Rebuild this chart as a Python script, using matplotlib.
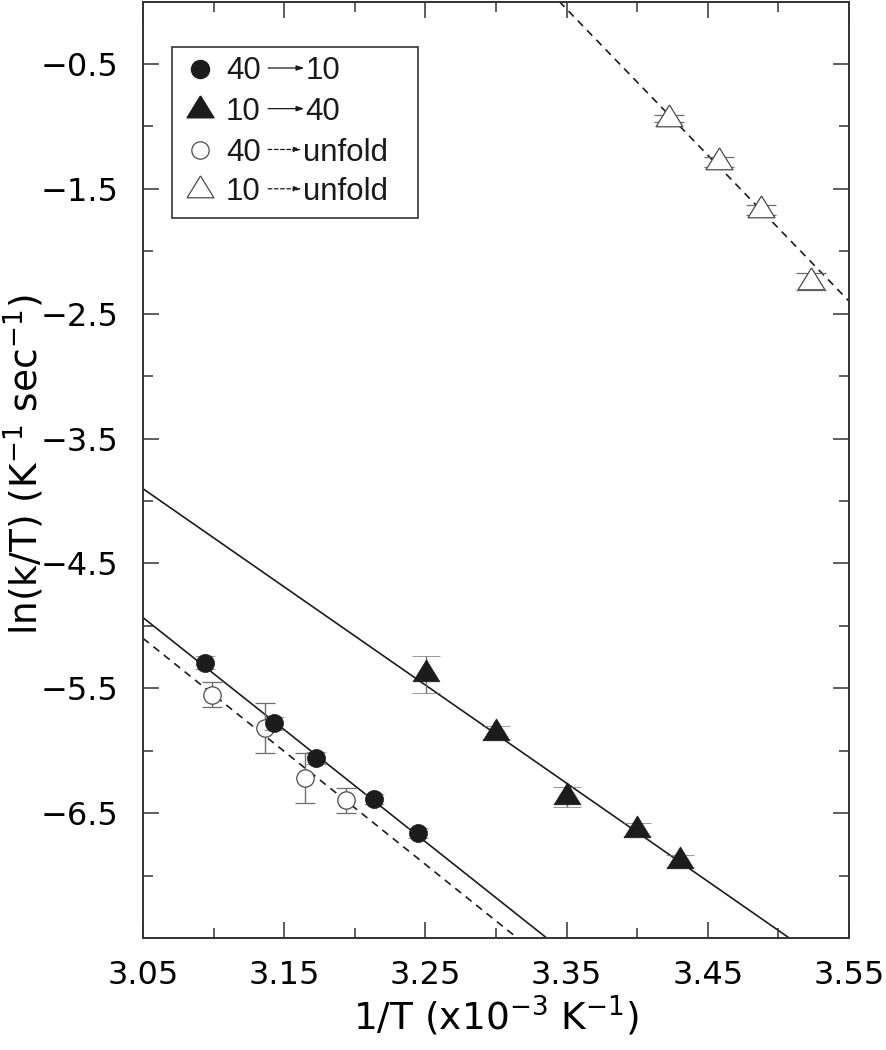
import numpy as np
import matplotlib
matplotlib.use('Agg')
import matplotlib.pyplot as plt
from matplotlib.patches import Rectangle

# ---------------- data ----------------
# 40 -> 10 (filled circles)
fc_x = [3.094, 3.143, 3.1725, 3.2136, 3.2448]
fc_y = [-5.294, -5.782, -6.058, -6.390, -6.660]
fc_err = [0.05, 0.05, 0.05, 0.04, 0.04]
# 10 -> 40 (filled triangles)
ft_x = [3.2504, 3.300, 3.350, 3.400, 3.430]
ft_y = [-5.388, -5.856, -6.370, -6.633, -6.882]
ft_err = [0.15, 0.05, 0.08, 0.05, 0.05]
# 40 ---> unfold (open circles)
oc_x = [3.099, 3.1364, 3.1647, 3.1938]
oc_y = [-5.550, -5.818, -6.222, -6.396]
oc_err = [0.10, 0.20, 0.20, 0.10]
# 10 ---> unfold (open triangles)
ot_x = [3.4227, 3.458, 3.4875, 3.523]
ot_y = [-0.938, -1.284, -1.666, -2.244]
ot_err = [0.03, 0.04, 0.04, 0.07]

# fitted lines (end points)
fc_fit_x = [3.05, 3.3359]
fc_fit_y = [-4.934, -7.50]
oc_fit_x = [3.05, 3.3151]
oc_fit_y = [-5.10, -7.50]
ft_fit_x = [3.05, 3.5077]
ft_fit_y = [-3.902, -7.50]
ot_fit_x = [3.3448, 3.55]
ot_fit_y = [0.0, -2.40]

x_major = [3.05, 3.15, 3.25, 3.35, 3.45, 3.55]
x_labels = ['3.05', '3.15', '3.25', '3.35', '3.45', '3.55']
x_minor = [3.10, 3.20, 3.30, 3.40, 3.50]
y_major = [-0.5, -1.5, -2.5, -3.5, -4.5, -5.5, -6.5]
y_labels = ['\u22120.5', '\u22121.5', '\u22122.5', '\u22123.5', '\u22124.5', '\u22125.5', '\u22126.5']
y_minor = [-1.0, -2.0, -3.0, -4.0, -5.0, -6.0, -7.0]

legend_labels = [('40', '10', 'solid'), ('10', '40', 'solid'),
                 ('40', 'unfold', 'dashed'), ('10', 'unfold', 'dashed')]

# ---------------- style ----------------
plt.rcParams['font.family'] = ['Liberation Sans', 'DejaVu Sans']
plt.rcParams['mathtext.fontset'] = 'custom'
plt.rcParams['mathtext.rm'] = 'Liberation Sans Narrow'
plt.rcParams['mathtext.default'] = 'regular'

DARK = '#1c1c1c'
GREY = '#6e6e6e'
OPEN_EDGE = '#4a4a4a'

# triangle marker with centroid at origin, wider than tall
tri = [(0, 14.67), (-13.5, -7.33), (13.5, -7.33), (0, 14.67)]

fig = plt.figure(figsize=(8.86, 10.5), dpi=100)
ax = fig.add_axes([143 / 886, 1 - 938 / 1050, 706 / 886, 936.5 / 1050])

# fit lines
ax.plot(fc_fit_x, fc_fit_y, color=DARK, lw=1.2, zorder=1)
ax.plot(oc_fit_x, oc_fit_y, color=DARK, lw=1.2, ls=(0, (4.5, 3.5)), zorder=1)
ax.plot(ft_fit_x, ft_fit_y, color=DARK, lw=1.2, zorder=1)
ax.plot(ot_fit_x, ot_fit_y, color=DARK, lw=1.2, ls=(0, (4.5, 3.5)), zorder=1)

eb_kw = dict(ecolor=GREY, elinewidth=1.0, capthick=1.0, ls='none')
# open circles first (filled circles drawn on top)
ax.errorbar(oc_x, oc_y, yerr=oc_err, marker='o', ms=12.5, mfc='white',
            mec=OPEN_EDGE, mew=0.9, capsize=7.5, zorder=2, **eb_kw)
ax.errorbar(fc_x, fc_y, yerr=fc_err, marker='o', ms=13, mfc=DARK,
            mec=DARK, mew=0.5, capsize=7.5, zorder=3, **eb_kw)
ax.errorbar(ft_x, ft_y, yerr=ft_err, marker=tri, ms=21, mfc=DARK,
            mec=DARK, mew=0.5, capsize=10, zorder=3, **eb_kw)
ax.errorbar(ot_x, ot_y, yerr=ot_err, marker=tri, ms=21, mfc='white',
            mec=OPEN_EDGE, mew=0.9, capsize=11, zorder=3, **eb_kw)

ax.set_xlim(3.05, 3.55)
ax.set_ylim(-7.5, 0.0)
ax.set_xticks(x_major)
ax.set_xticklabels(x_labels)
ax.set_xticks(x_minor, minor=True)
ax.set_yticks(y_major)
ax.set_yticklabels(y_labels)
ax.set_yticks(y_minor, minor=True)

ax.tick_params(which='both', direction='in', top=True, right=True,
               color='#333333', width=1.1)
ax.tick_params(which='major', length=11.5)
ax.tick_params(which='minor', length=7)
ax.tick_params(axis='x', which='major', labelsize=23, pad=16)
ax.tick_params(axis='y', which='major', labelsize=23, pad=18)
for lab in ax.get_xticklabels() + ax.get_yticklabels():
    lab.set_family(['DejaVu Sans'])
for sp in ax.spines.values():
    sp.set_linewidth(1.4)
    sp.set_color('#333333')

ax.set_xlabel(r'1/T (x10$^{-3}$ K$^{-1}$)', fontsize=27,
              family=['Liberation Sans Narrow', 'DejaVu Sans'])
ax.xaxis.set_label_coords(0.5, -0.060)
ax.set_ylabel(r'ln(k/T) (K$^{-1}$ sec$^{-1}$)', fontsize=27,
              family=['Liberation Sans Narrow', 'DejaVu Sans'])
ax.yaxis.set_label_coords(-0.137, 0.505)

# ---------------- legend (drawn by hand) ----------------
T = ax.transAxes
ax.add_patch(Rectangle((0.0415, 0.769), 0.3485, 0.182, transform=T,
                       facecolor='white', edgecolor='#333333', lw=1.2, zorder=5))
rows = [0.928, 0.8846, 0.841, 0.799]
styles = [dict(marker='o', ms=13, mfc=DARK, mec=DARK),
          dict(marker=tri, ms=21, mfc=DARK, mec=DARK),
          dict(marker='o', ms=12.5, mfc='white', mec=OPEN_EDGE, mew=0.9),
          dict(marker=tri, ms=21, mfc='white', mec=OPEN_EDGE, mew=0.9)]
for fy, st, (a, b, kind) in zip(rows, styles, legend_labels):
    ax.plot([0.0807], [fy], transform=T, ls='none', zorder=6, clip_on=False, **st)
    ax.text(0.1176, fy - 0.0112, a, transform=T, fontsize=22.5, ha='left',
            va='baseline', zorder=6, color='#1a1a1a')
    x_start = 0.1772
    x_end = 0.2285 if kind == 'solid' else 0.2245
    ax.annotate('', xy=(x_end, fy + 0.001), xytext=(x_start, fy + 0.001),
                xycoords=T, textcoords=T, zorder=6,
                arrowprops=dict(arrowstyle='-|>,head_length=0.45,head_width=0.15',
                                lw=0.9, color='#1a1a1a', shrinkA=0, shrinkB=0,
                                ls='solid' if kind == 'solid' else (0, (3, 2))))
    ax.text(x_end + 0.0015, fy - 0.0112, b, transform=T, fontsize=22.5,
            ha='left', va='baseline', zorder=6, color='#1a1a1a')

fig.savefig('out.png', dpi=100)
